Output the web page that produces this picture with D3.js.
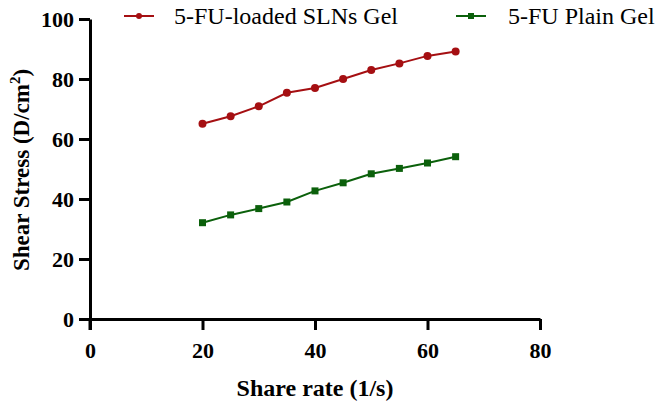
<!DOCTYPE html>
<html><head><meta charset="utf-8">
<script src="https://cdn.jsdelivr.net/npm/d3@7"></script>
<style>body{margin:0;background:#fff}svg{display:block}</style>
</head><body><svg id="c" width="661" height="405"></svg>
<script>
const shearRate = [20, 25, 30, 35, 40, 45, 50, 55, 60, 65];
const slnGel = [65.1, 67.6, 70.9, 75.4, 77.0, 80.0, 83.0, 85.2, 87.7, 89.2];
const plainGel = [32.1, 34.7, 36.8, 39.0, 42.7, 45.4, 48.4, 50.2, 52.0, 54.1];
const xTicks = [0, 20, 40, 60, 80];
const yTicks = [0, 20, 40, 60, 80, 100];
const seriesNames = ["5-FU-loaded SLNs Gel", "5-FU Plain Gel"];
const seriesColors = ["#a50f12", "#0b600b"];

const svg = d3.select("#c");
const x = d3.scaleLinear().domain([0, 80]).range([90, 540]);
const y = d3.scaleLinear().domain([0, 100]).range([319, 19]);
const font = "'Liberation Serif','Times New Roman',serif";

const xAxis = svg.append("g").attr("transform", "translate(0,319)")
  .call(d3.axisBottom(x).tickValues(xTicks).tickSize(11).tickPadding(12).tickSizeOuter(0));
const yAxis = svg.append("g").attr("transform", "translate(90,0)")
  .call(d3.axisLeft(y).tickValues(yTicks).tickSize(11).tickPadding(5).tickSizeOuter(0));
[xAxis, yAxis].forEach(g => {
  g.select(".domain").attr("stroke", "#000").attr("stroke-width", 3);
  g.selectAll(".tick line").attr("stroke", "#000").attr("stroke-width", 3);
  g.selectAll(".tick text").attr("fill", "#000").style("font-family", font)
    .style("font-weight", "bold").style("font-size", "22px");
});
// extend y-axis below x-axis like the reference
svg.append("line").attr("x1", 90).attr("x2", 90).attr("y1", 319).attr("y2", 330)
  .attr("stroke", "#000").attr("stroke-width", 3);

const line = d3.line().x((d, i) => x(shearRate[i])).y(d => y(d));
[slnGel, plainGel].forEach((vals, k) => {
  svg.append("path").datum(vals).attr("d", line).attr("fill", "none")
    .attr("stroke", seriesColors[k]).attr("stroke-width", 2);
  if (k === 0) {
    svg.selectAll(".m0").data(vals).enter().append("circle")
      .attr("cx", (d, i) => x(shearRate[i])).attr("cy", d => y(d)).attr("r", 4)
      .attr("fill", seriesColors[k]);
  } else {
    svg.selectAll(".m1").data(vals).enter().append("rect")
      .attr("x", (d, i) => x(shearRate[i]) - 3.5).attr("y", d => y(d) - 3.5)
      .attr("width", 7).attr("height", 7).attr("fill", seriesColors[k]);
  }
});

// legend
const legendX = [124, 456];
seriesNames.forEach((name, k) => {
  const g = svg.append("g").attr("transform", `translate(${legendX[k]},16)`);
  g.append("line").attr("x1", 0).attr("x2", 30).attr("y1", 0).attr("y2", 0)
    .attr("stroke", seriesColors[k]).attr("stroke-width", 2);
  if (k === 0) g.append("circle").attr("cx", 15).attr("cy", 0).attr("r", 3).attr("fill", seriesColors[k]);
  else g.append("rect").attr("x", 12).attr("y", -3).attr("width", 6).attr("height", 6).attr("fill", seriesColors[k]);
  g.append("text").attr("x", k === 0 ? 50 : 52).attr("y", 8).text(name)
    .style("font-family", font).style("font-size", "24px").attr("fill", "#000");
});

// axis titles
svg.append("text").attr("x", 315).attr("y", 396).attr("text-anchor", "middle")
  .style("font-family", font).style("font-weight", "bold").style("font-size", "24px")
  .text("Share rate (1/s)");
const yt = svg.append("text").attr("transform", "translate(29,170) rotate(-90)")
  .attr("text-anchor", "middle").style("font-family", font).style("font-weight", "bold")
  .style("font-size", "23px");
yt.append("tspan").text("Shear Stress (D/cm");
yt.append("tspan").attr("dy", -9).style("font-size", "15px").text("2");
yt.append("tspan").attr("dy", 9).text(")");
</script></body></html>
